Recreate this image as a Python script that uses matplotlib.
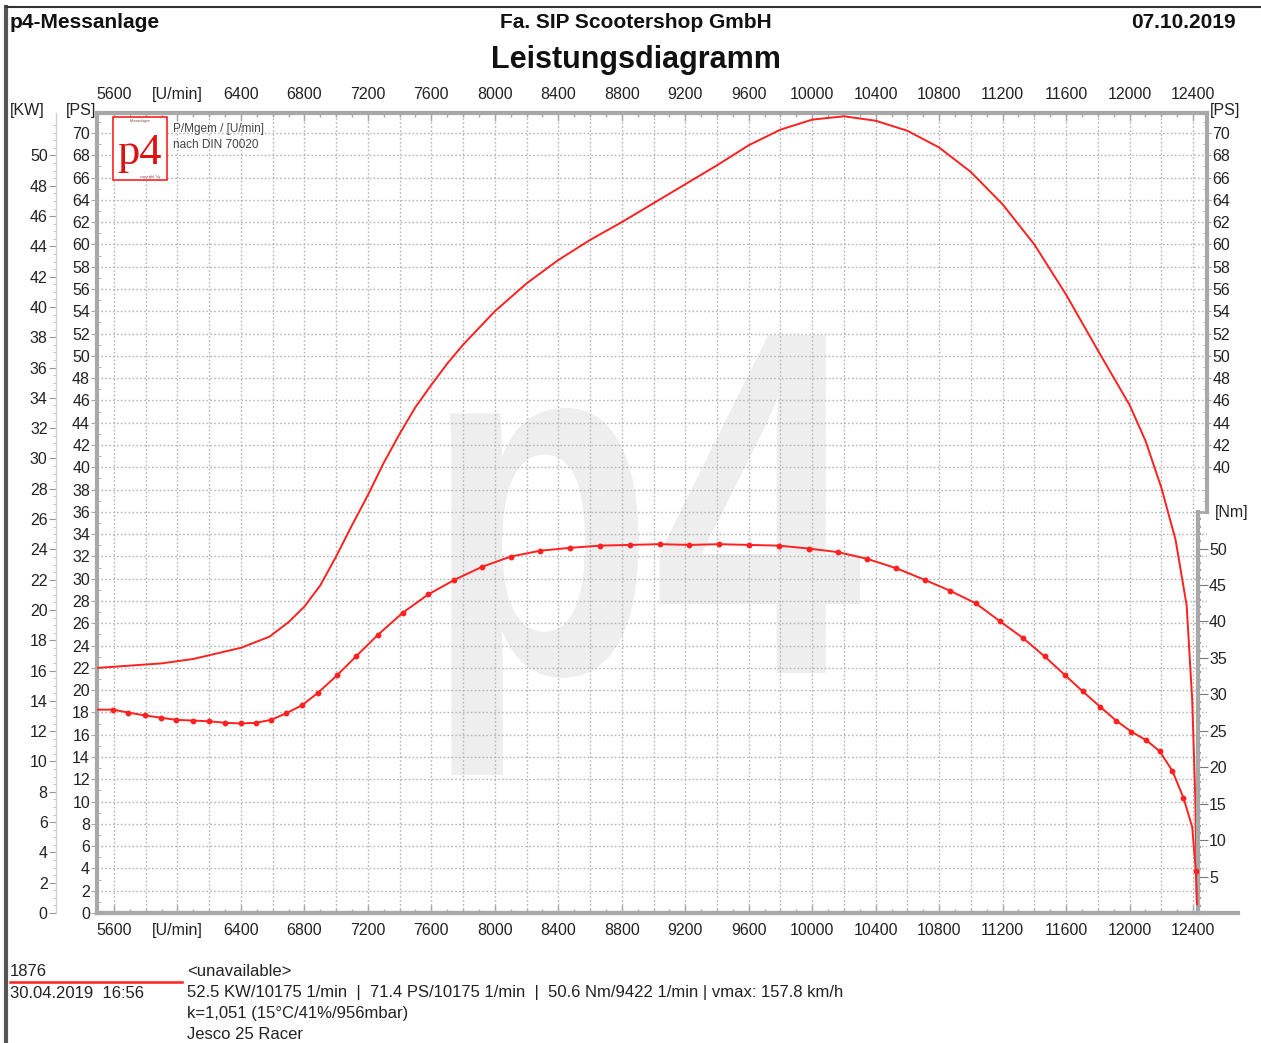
import numpy as np
import matplotlib
matplotlib.use('Agg')
import matplotlib.pyplot as plt
from matplotlib.lines import Line2D
from matplotlib.patches import Rectangle, PathPatch
from matplotlib.textpath import TextPath
from matplotlib.font_manager import FontProperties
from matplotlib.transforms import Affine2D, IdentityTransform

W, H = 1261, 1043

# power curve (PS over rpm)
power_rpm = [5500, 5900, 6100, 6400, 6580, 6700, 6800, 6900, 7000, 7100, 7200, 7300,
             7400, 7500, 7600, 7700, 7800,
             8000, 8200, 8400, 8600, 8800, 9000, 9200, 9400, 9600, 9800, 10000, 10200,
             10400, 10600, 10800, 11000, 11200, 11400, 11600, 11800, 12000, 12100, 12200,
             12290, 12360, 12395, 12415, 12425]
power_ps = [22.0, 22.4, 22.8, 23.8, 24.8, 26.1, 27.5, 29.4, 32.0, 34.8, 37.5, 40.4,
            43.0, 45.4, 47.4, 49.3, 51.0,
            54.0, 56.5, 58.6, 60.4, 62.0, 63.7, 65.4, 67.1, 68.9, 70.3, 71.2, 71.5,
            71.1, 70.2, 68.7, 66.5, 63.6, 60.0, 55.5, 50.5, 45.6, 42.4, 38.2,
            33.5, 27.6, 19.1, 10.1, 0.7]

# torque curve (Nm over rpm), measured points
torque_rpm = [5500, 5595, 5690, 5795, 5895, 5990, 6100, 6200, 6300, 6400, 6495, 6590,
              6685, 6785, 6885, 7005, 7125, 7265, 7420, 7580, 7745, 7920, 8100, 8285,
              8475, 8665, 8850, 9040, 9225, 9415, 9600, 9790, 9980, 10165, 10345, 10530,
              10710, 10870, 11030, 11185, 11330, 11465, 11595, 11705, 11815, 11915, 12010,
              12105, 12190, 12270, 12340, 12395, 12418, 12425]
torque_nm = [27.9, 27.9, 27.5, 27.1, 26.8, 26.5, 26.4, 26.3, 26.1, 26.0, 26.1, 26.5,
             27.4, 28.5, 30.2, 32.6, 35.2, 38.2, 41.2, 43.7, 45.7, 47.5, 48.9, 49.7,
             50.1, 50.4, 50.5, 50.6, 50.5, 50.6, 50.5, 50.4, 50.0, 49.5, 48.6, 47.3,
             45.7, 44.2, 42.5, 40.0, 37.7, 35.2, 32.6, 30.4, 28.3, 26.4, 24.9,
             23.7, 22.2, 19.5, 15.8, 11.8, 5.8, 1.2]
torque_marks = [i for i in range(1, len(torque_rpm) - 1) if i != len(torque_rpm) - 3]

rpm_ticks = list(range(5600, 12401, 400))
rpm_labels = [str(r) if r != 6000 else '[U/min]' for r in rpm_ticks]
ps_ticks = list(range(0, 71, 2))
ps_right_ticks = list(range(40, 71, 2))
kw_ticks = list(range(0, 51, 2))
nm_ticks = list(range(5, 51, 5))

header_left = 'p4-Messanlage'
header_mid = 'Fa. SIP Scootershop GmbH'
header_right = '07.10.2019'
title = 'Leistungsdiagramm'
info_lines = ['<unavailable>',
              '52.5 KW/10175 1/min  |  71.4 PS/10175 1/min  |  50.6 Nm/9422 1/min | vmax: 157.8 km/h',
              'k=1,051 (15°C/41%/956mbar)',
              'Jesco 25 Racer']

plt.rcParams['font.family'] = ['Liberation Sans', 'DejaVu Sans']
GRAY = '#a8a8a8'
TXT = '#222222'
RED = '#ff2020'


def fx(px):
    return px / W


def fy(py):
    return 1 - py / H


fig = plt.figure(figsize=(W / 100, H / 100), dpi=100)

# plot area in pixels: x 97..1207, y 113..913
L, R, T, B = 97, 1207, 113, 913
ax = fig.add_axes([fx(L), fy(B), fx(R - L), (B - T) / H])
px_per_rpm = (1193 - 114) / 6800
xmin = 5600 - (114 - L) / px_per_rpm
xmax = 5600 + (R - 114) / px_per_rpm
ps_px = (913 - 133) / 70
ps_max = (B - T) / ps_px
ax.set_xlim(xmin, xmax)
ax.set_ylim(0, ps_max)
ax.patch.set_alpha(0)

# watermark, squeezed into its box (x 450..860, y 335..775 px from top)
wm = TextPath((0, 0), 'p4', size=100, prop=FontProperties(family='Liberation Sans',
                                                            weight='bold'))
bb = wm.get_extents()
sx = (860 - 450) / bb.width
sy = (775 - 335) / bb.height
wm_tr = Affine2D().translate(-bb.x0, -bb.y0).scale(sx, sy).translate(450, H - 775)
ax.add_artist(PathPatch(wm, facecolor='#eeeeee', edgecolor='none',
                        transform=wm_tr + IdentityTransform(), zorder=0))

# grid
ax.vlines(np.arange(5600, 12401, 200), 0, ps_max, colors='#b5b5b5',
          linestyles=(0, (1.2, 1.6)), linewidth=1, zorder=1)
ax.hlines(np.arange(2, ps_max, 2), xmin, xmax, colors='#b5b5b5',
          linestyles=(0, (1.2, 1.6)), linewidth=1, zorder=1)

# spines main
for s in ['left', 'top', 'bottom']:
    ax.spines[s].set_color(GRAY)
    ax.spines[s].set_linewidth(3)
ax.spines['right'].set_visible(False)

ax.set_xticks(rpm_ticks)
ax.set_xticklabels(rpm_labels)
ax.set_xticks(np.arange(5600, 12401, 100), minor=True)
ax.tick_params(axis='x', which='both', top=True, bottom=True, labeltop=False,
               direction='in', color=GRAY, labelsize=11.5, labelcolor=TXT, pad=7)
ax.tick_params(axis='x', which='major', length=6, width=1)
ax.tick_params(axis='x', which='minor', length=3, width=1)
ax.set_yticks(ps_ticks)
ax.set_yticks(np.arange(0, ps_max, 1), minor=True)
ax.tick_params(axis='y', which='major', direction='out', length=4, color=GRAY,
               labelsize=11.5, labelcolor=TXT, pad=1)
ax.tick_params(axis='y', which='minor', direction='in', length=3, color=GRAY)

# top rpm labels
ax_top = ax.secondary_xaxis('top')
ax_top.spines['top'].set_visible(False)
ax_top.set_xticks(rpm_ticks)
ax_top.set_xticklabels(rpm_labels)
ax_top.tick_params(axis='x', length=0, labelsize=11.5, labelcolor=TXT, pad=8)

# power curve
ax.plot(power_rpm, power_ps, color=RED, linewidth=1.4, zorder=4)

# right PS axis
ax_ps2 = ax.twinx()
ax_ps2.set_ylim(0, ps_max)
for s in ['left', 'top', 'bottom']:
    ax_ps2.spines[s].set_visible(False)
ps_cut = (B - 512) / ps_px
ax_ps2.spines['right'].set_bounds(ps_cut, ps_max)
ax_ps2.spines['right'].set_color(GRAY)
ax_ps2.spines['right'].set_linewidth(3)
ax_ps2.set_yticks(ps_right_ticks)
ax_ps2.set_yticks(np.arange(37, ps_max, 1), minor=True)
ax_ps2.tick_params(axis='y', which='major', direction='out', length=3, color=GRAY,
                   labelsize=11.5, labelcolor=TXT, pad=1)
ax_ps2.tick_params(axis='y', which='minor', direction='in', length=3, color=GRAY)

# torque axis
nm_px = (877 - 549) / 45
ax_nm = ax.twinx()
ax_nm.set_ylim(0, (B - T) / nm_px)
for s in ['left', 'top', 'bottom']:
    ax_nm.spines[s].set_visible(False)
ax_nm.spines['right'].set_position(('axes', (1198 - L) / (R - L)))
ax_nm.spines['right'].set_bounds(0, (B - 512) / nm_px)
ax_nm.spines['right'].set_color(GRAY)
ax_nm.spines['right'].set_linewidth(3)
ax_nm.set_yticks(nm_ticks)
ax_nm.set_yticks(np.arange(1, 55, 1), minor=True)
ax_nm.tick_params(axis='y', which='major', direction='out', length=7, color='#777777',
                  labelsize=11.5, labelcolor=TXT, pad=1)
ax_nm.tick_params(axis='y', which='minor', direction='out', length=2, width=1.5,
                  color='#999999')
ax_nm.plot(torque_rpm, torque_nm, color=RED, linewidth=1.4, zorder=4,
           marker='o', markersize=3.2, markevery=torque_marks)

# KW axis
ax_kw = ax.twinx()
ax_kw.set_ylim(0, ps_max * 0.7355)
for s in ['right', 'top', 'bottom']:
    ax_kw.spines[s].set_visible(False)
ax_kw.yaxis.set_ticks_position('left')
ax_kw.yaxis.set_label_position('left')
ax_kw.spines['left'].set_position(('axes', (56 - L) / (R - L)))
ax_kw.spines['left'].set_color('#d0d0d0')
ax_kw.spines['left'].set_linewidth(1)
ax_kw.set_yticks(kw_ticks)
ax_kw.set_yticks(np.arange(0, 52.5, 0.5), minor=True)
ax_kw.tick_params(axis='y', which='major', direction='out', length=5, color='#999999',
                  labelsize=11.5, labelcolor=TXT, pad=1)
ax_kw.tick_params(axis='y', which='minor', direction='out', length=2, color='#bbbbbb')

# extra frame lines
fig.add_artist(Line2D([fx(L), fx(1238)], [fy(B), fy(B)], color=GRAY, linewidth=3))
fig.add_artist(Line2D([fx(1198), fx(R)], [fy(512), fy(512)], color=GRAY, linewidth=2))
fig.add_artist(Line2D([fx(6), fx(6)], [0, fy(7)], color='#555555', linewidth=3))
fig.add_artist(Line2D([fx(6), 1], [fy(7), fy(7)], color='#333333', linewidth=1.5))

# unit labels
fig.text(fx(10), fy(110), '[KW]', fontsize=11.5, color=TXT, ha='left', va='center')
fig.text(fx(96), fy(110), '[PS]', fontsize=11.5, color=TXT, ha='right', va='center')
fig.text(fx(1210), fy(110), '[PS]', fontsize=11.5, color=TXT, ha='left', va='center')
fig.text(fx(1215), fy(512), '[Nm]', fontsize=11.5, color=TXT, ha='left', va='center')

# logo
fig.add_artist(Rectangle((fx(113), fy(180)), fx(54), (180 - 117) / H, facecolor='white',
                         edgecolor=RED, linewidth=1.2, transform=fig.transFigure, zorder=5))
fig.text(fx(140), fy(164), 'p4', fontsize=32, family=['Liberation Serif', 'DejaVu Serif'],
         color='#dd1111', ha='center', va='baseline', zorder=6)
fig.text(fx(140), fy(121), 'Messanlagen', fontsize=2.5, color='#884444', ha='center',
         va='center', zorder=6)
fig.text(fx(150), fy(177), 'copyright *dy', fontsize=2.5, color='#884444', ha='center',
         va='center', zorder=6)
fig.text(fx(173), fy(129), 'P/Mgem / [U/min]', fontsize=8.5, color='#444444',
         ha='left', va='center')
fig.text(fx(173), fy(145), 'nach DIN 70020', fontsize=8.5, color='#444444',
         ha='left', va='center')

# headers
fig.text(fx(10), fy(22), header_left, fontsize=15, fontweight='bold', color='#111111',
         ha='left', va='center')
fig.text(fx(636), fy(22), header_mid, fontsize=15, fontweight='bold', color='#111111',
         ha='center', va='center')
fig.text(fx(1236), fy(22), header_right, fontsize=15, fontweight='bold', color='#111111',
         ha='right', va='center')
fig.text(fx(636), fy(60), title, fontsize=22, fontweight='bold', color='#111111',
         ha='center', va='center')

# footer
fig.text(fx(10), fy(971), '1876', fontsize=12, color=TXT, ha='left', va='center')
fig.add_artist(Line2D([fx(10), fx(182)], [fy(982), fy(982)], color=RED, linewidth=1.8))
fig.text(fx(10), fy(993), '30.04.2019  16:56', fontsize=12, color=TXT, ha='left',
         va='center')
for i, line in enumerate(info_lines):
    fig.text(fx(187), fy(971 + 21.3 * i), line, fontsize=12, color=TXT, ha='left',
             va='center')

plt.savefig('out.png', dpi=100)
